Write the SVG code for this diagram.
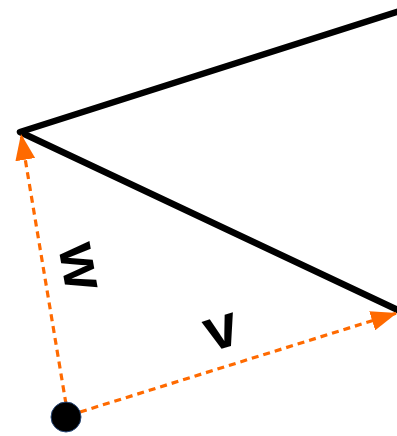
<svg xmlns="http://www.w3.org/2000/svg" width="397" height="436" viewBox="0 0 397 436">
<style>
.edge{stroke:#000;stroke-width:6.5;fill:none;stroke-linecap:round;stroke-linejoin:round}
.vec{stroke:#ff6a00;stroke-width:3.2;fill:none;stroke-dasharray:7 5}
.lbl{font-family:"Liberation Sans",Arial,sans-serif;font-weight:bold;font-size:60px;fill:#000}
</style>
<defs>
<marker id="arr" viewBox="0 0 26 20" refX="26" refY="10" markerWidth="26" markerHeight="20" markerUnits="userSpaceOnUse" orient="auto">
<path d="M0,0 L26,10 L0,20 Z" fill="#ff6a00"/>
</marker>
</defs>
<g id="lines">
<path class="edge" d="M400,11 L20,132 L400,311"/>
</g>
<g id="connectors">
<path class="vec" d="M66,404 L21,134" marker-end="url(#arr)"/>
<path class="vec" d="M80,412 L397,313" marker-end="url(#arr)"/>
</g>
<g id="origin">
<circle cx="66" cy="417" r="15" fill="#000" stroke="#2a4a7a" stroke-width="1"/>
</g>
<g id="label-w">
<text class="lbl" text-anchor="middle" transform="translate(77,267) rotate(80)" dy="0.25em">w</text>
</g>
<g id="label-v">
<text class="lbl" text-anchor="middle" transform="translate(222,333) rotate(-17)" dy="0.25em">v</text>
</g>
</svg>
